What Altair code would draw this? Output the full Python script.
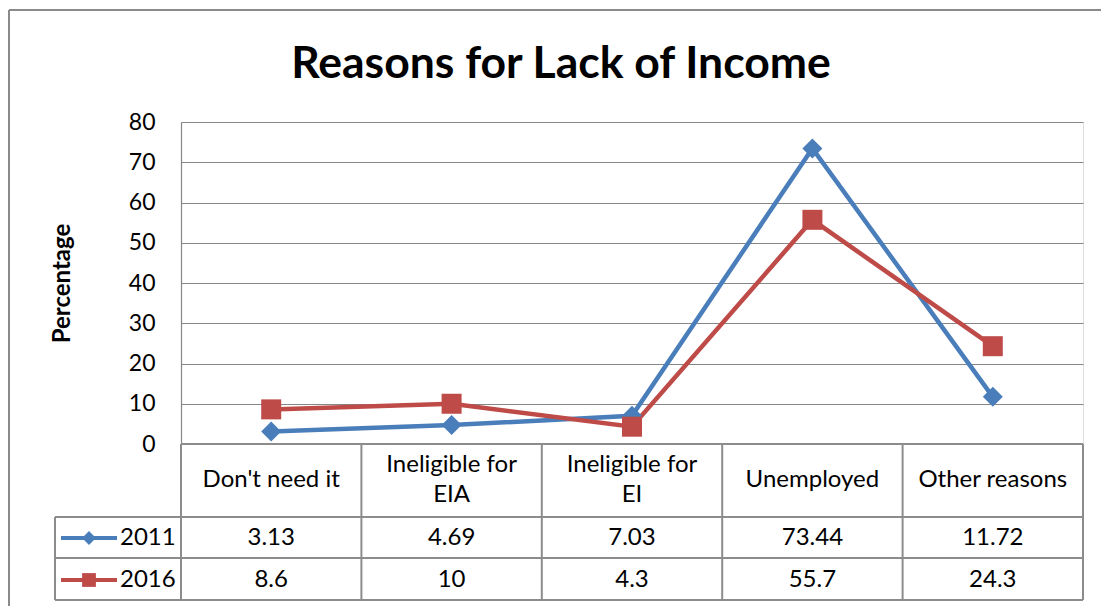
import altair as alt
import pandas as pd

# ---- data ----
categories = ["Don't need it", "Ineligible for EIA", "Ineligible for EI", "Unemployed", "Other reasons"]
header_labels = ["Don't need it", "Ineligible for\nEIA", "Ineligible for\nEI", "Unemployed", "Other reasons"]
years = ["2011", "2016"]
values_2011 = [3.13, 4.69, 7.03, 73.44, 11.72]
values_2016 = [8.6, 10, 4.3, 55.7, 24.3]
y_ticks = [0, 10, 20, 30, 40, 50, 60, 70, 80]
chart_title = "Reasons for Lack of Income"

series = {"2011": values_2011, "2016": values_2016}
colors = ["#4A7EBB", "#BE4B48"]
shapes = ["diamond", "square"]

rows = []
for year in years:
    for i, cat in enumerate(categories):
        rows.append({"pos": i + 0.5, "cat": cat, "header": header_labels[i],
                     "year": year, "value": series[year][i]})
df = pd.DataFrame(rows)
bounds = pd.DataFrame({"b": list(range(len(categories) + 1))})

# ---- layout (pixels) ----
W, H = 902, 322
FONT = "Lato"
GRID = "#878787"
TABLE = "#8C8C8C"
row_y = {"2011": 416, "2016": 458}
header_y = 358
line_ys = [395, 436, 478]
left_x = -126
TFS = 24

xs = alt.X("pos:Q", scale=alt.Scale(domain=[0, len(categories)], nice=False, zero=False), axis=None)
ys = alt.Y("value:Q", scale=alt.Scale(domain=[0, 80], nice=False),
           axis=alt.Axis(values=y_ticks, grid=True, gridColor=GRID, gridWidth=1.2,
                         domain=True, domainColor=GRID, domainWidth=1.2,
                         ticks=False, tickSize=0, labelPadding=26,
                         labelFont=FONT, labelFontSize=23, labelColor="#000000",
                         title="Percentage", titleFont=FONT, titleFontSize=24,
                         titleFontWeight="bold", titleColor="#000000",
                         titleAngle=-90, titleX=-119, titleY=H / 2,
                         titleAlign="center", titleBaseline="middle"))
color = alt.Color("year:N", scale=alt.Scale(domain=years, range=colors), legend=None)
shape = alt.Shape("year:N", scale=alt.Scale(domain=years, range=shapes), legend=None)

base = alt.Chart(df)
lines = base.mark_line(strokeWidth=4.5).encode(x=xs, y=ys, color=color, detail="year:N")
points = base.mark_point(filled=True, size=400, opacity=1).encode(x=xs, y="value:Q", color=color, shape=shape)

# table chrome
vlines = alt.Chart(bounds).mark_rule(color=TABLE, strokeWidth=2).encode(
    x=alt.X("b:Q", scale=alt.Scale(domain=[0, len(categories)], nice=False, zero=False), axis=None),
    y=alt.value(H), y2=alt.value(line_ys[-1]))
hlines = [alt.Chart(df).mark_rule(color=TABLE, strokeWidth=2).encode(
    x=alt.value(left_x), x2=alt.value(W), y=alt.value(yv)) for yv in line_ys]
left_line = alt.Chart(df).mark_rule(color=TABLE, strokeWidth=2).encode(
    x=alt.value(left_x), y=alt.value(line_ys[0]), y2=alt.value(line_ys[-1]))
zero_line = alt.Chart(df).mark_rule(color=TABLE, strokeWidth=2).encode(
    x=alt.value(0), x2=alt.value(W), y=alt.value(H))
border_left = alt.Chart(df).mark_rule(color="#8A8A8A", strokeWidth=1.5).encode(
    x=alt.value(-172), y=alt.value(-112), y2=alt.value(500))
border_top = alt.Chart(df).mark_rule(color="#8A8A8A", strokeWidth=1.5).encode(
    x=alt.value(-172), x2=alt.value(940), y=alt.value(-112))

title = alt.Chart(pd.DataFrame({"t": [chart_title]})).mark_text(
    font=FONT, fontSize=44.5, fontWeight="bold", color="#000000", align="center", baseline="alphabetic"
).encode(x=alt.value(380), y=alt.value(-44), text="t:N")

hdr = df[df.year == years[0]]
one_line = hdr[~hdr.header.str.contains("\n")]
two_line = hdr[hdr.header.str.contains("\n")]
header1 = alt.Chart(one_line).mark_text(
    font=FONT, fontSize=TFS, baseline="middle", color="#000000"
).encode(x=xs, y=alt.value(header_y), text="header:N")
header2 = alt.Chart(two_line).mark_text(
    font=FONT, fontSize=TFS, lineBreak="\n", lineHeight=30, baseline="middle", color="#000000"
).encode(x=xs, y=alt.value(header_y - 15), text="header:N")

layers = [vlines, zero_line, left_line, border_left, border_top] + hlines + [title, header1, header2, lines, points]

for i, year in enumerate(years):
    d = df[df.year == year]
    ry = row_y[year]
    layers.append(alt.Chart(d).mark_text(font=FONT, fontSize=TFS, baseline="middle", color="#000000").encode(
        x=xs, y=alt.value(ry), text=alt.Text("value:Q", format="~g")))
    key = d.head(1)
    layers.append(alt.Chart(key).mark_rule(color=colors[i], strokeWidth=4).encode(
        x=alt.value(-120), x2=alt.value(-64), y=alt.value(ry)))
    layers.append(alt.Chart(key).mark_point(filled=True, opacity=1, size=190, color=colors[i], shape=shapes[i]).encode(
        x=alt.value(-92), y=alt.value(ry)))
    layers.append(alt.Chart(key).mark_text(font=FONT, fontSize=TFS, align="left", baseline="middle", color="#000000").encode(
        x=alt.value(-61), y=alt.value(ry), text="year:N"))

chart = alt.layer(*layers).properties(
    width=W, height=H,
    autosize=alt.AutoSizeParams(type="none"),
    padding={"left": 181, "top": 122, "right": 18, "bottom": 162},
).configure_view(stroke=None).configure(background="white")

chart.save("out.html", embed_options={"renderer": "svg", "actions": False})
